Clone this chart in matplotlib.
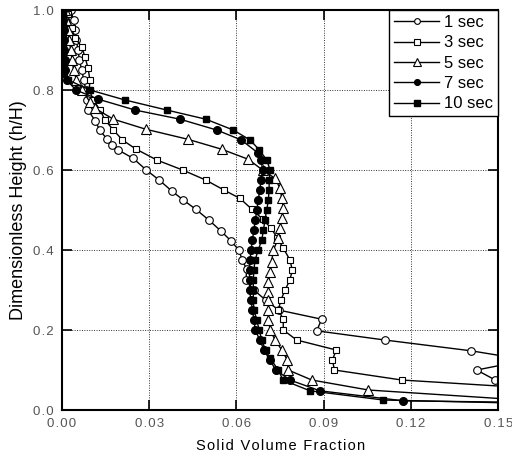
import matplotlib
matplotlib.use("Agg")
import matplotlib.pyplot as plt

plt.rcParams['font.family'] = ['Liberation Sans', 'DejaVu Sans']

# 1 sec
x1 = [0.003, 0.004, 0.0045, 0.005, 0.0055, 0.006, 0.0068, 0.0075, 0.0082, 0.0086, 0.009,
      0.0114, 0.013, 0.0154, 0.0173, 0.0194, 0.0245, 0.029, 0.0334, 0.0377, 0.0417,
      0.046, 0.0505, 0.0546, 0.0581, 0.0608, 0.062, 0.0635, 0.0633, 0.066, 0.070, 0.0745,
      0.0893, 0.0876, 0.111, 0.1407, 0.16, 0.1426, 0.149, 0.17]
y1 = [1.0, 0.975, 0.95, 0.925, 0.9, 0.875, 0.85, 0.825, 0.8, 0.775, 0.75,
      0.723, 0.70, 0.678, 0.663, 0.65, 0.629, 0.60, 0.575, 0.548, 0.525,
      0.502, 0.475, 0.448, 0.423, 0.40, 0.375, 0.352, 0.325, 0.30, 0.275, 0.25,
      0.227, 0.198, 0.175, 0.148, 0.125, 0.10, 0.075, 0.04]

# 3 sec
x3 = [0.002, 0.0033, 0.0045, 0.0068, 0.0079, 0.009, 0.0096, 0.0094, 0.0108, 0.0131, 0.0148,
      0.0177, 0.0208, 0.0253, 0.0326, 0.0415, 0.0494, 0.0557, 0.0612, 0.0653, 0.069, 0.072,
      0.074, 0.0761, 0.0784, 0.0792, 0.0784, 0.0767, 0.0753, 0.0744, 0.0761, 0.0761, 0.0807,
      0.0943, 0.093, 0.0937, 0.1168, 0.17]
y3 = [0.99, 0.954, 0.93, 0.908, 0.883, 0.854, 0.825, 0.80, 0.775, 0.75, 0.725,
      0.70, 0.675, 0.653, 0.625, 0.60, 0.575, 0.55, 0.529, 0.502, 0.477, 0.454,
      0.43, 0.405, 0.375, 0.35, 0.325, 0.30, 0.275, 0.25, 0.227, 0.20, 0.175,
      0.15, 0.125, 0.10, 0.075, 0.051]

# 5 sec
x5 = [0.001, 0.0015, 0.002, 0.0025, 0.003, 0.0035, 0.004, 0.005, 0.007, 0.0096, 0.0114,
      0.0177, 0.0288, 0.0432, 0.0549, 0.064, 0.069, 0.0733, 0.075, 0.0756, 0.0761, 0.0756,
      0.075, 0.0744, 0.0727, 0.0721, 0.0716, 0.071, 0.071, 0.071, 0.071, 0.071, 0.0716,
      0.0733, 0.0756, 0.0775, 0.0778, 0.0859, 0.1054, 0.17]
y5 = [1.0, 0.975, 0.95, 0.925, 0.9, 0.875, 0.85, 0.825, 0.8, 0.77, 0.754,
      0.727, 0.702, 0.677, 0.652, 0.627, 0.60, 0.579, 0.554, 0.529, 0.504, 0.479,
      0.454, 0.429, 0.40, 0.371, 0.346, 0.321, 0.296, 0.275, 0.25, 0.225, 0.20,
      0.175, 0.15, 0.125, 0.10, 0.075, 0.05, 0.0195]

# 7 sec
x7 = [0.0005, 0.0005, 0.0006, 0.0007, 0.0008, 0.0009, 0.001, 0.0016, 0.0048, 0.0125, 0.0251,
      0.0406, 0.0532, 0.0617, 0.0675, 0.0685, 0.069, 0.0685, 0.068, 0.0675, 0.067, 0.0665,
      0.066, 0.0655, 0.065, 0.0647, 0.0645, 0.0645, 0.0645, 0.065, 0.0655, 0.066, 0.0665,
      0.068, 0.0695, 0.0715, 0.0735, 0.0784, 0.0887, 0.1174, 0.17]
y7 = [1.0, 0.975, 0.95, 0.925, 0.9, 0.875, 0.85, 0.825, 0.80, 0.777, 0.75,
      0.727, 0.70, 0.675, 0.642, 0.625, 0.60, 0.575, 0.55, 0.525, 0.50, 0.475,
      0.45, 0.425, 0.40, 0.375, 0.35, 0.325, 0.30, 0.275, 0.25, 0.225, 0.20,
      0.175, 0.15, 0.125, 0.10, 0.075, 0.048, 0.023, 0.018]

# 10 sec
x10 = [0.0003, 0.0003, 0.0004, 0.0004, 0.0005, 0.0006, 0.0008, 0.0022, 0.0096, 0.0217, 0.036,
       0.0495, 0.0589, 0.0647, 0.0679, 0.0704, 0.0716, 0.0713, 0.0712, 0.071, 0.0704, 0.0698,
       0.0693, 0.0687, 0.0675, 0.0664, 0.066, 0.0658, 0.0658, 0.0658, 0.066, 0.067, 0.0678,
       0.0687, 0.070, 0.0716, 0.0744, 0.076, 0.0853, 0.1105, 0.17]
y10 = [0.99, 0.965, 0.94, 0.915, 0.89, 0.865, 0.84, 0.825, 0.80, 0.775, 0.75,
       0.727, 0.70, 0.675, 0.65, 0.625, 0.60, 0.575, 0.55, 0.525, 0.50, 0.475,
       0.45, 0.425, 0.40, 0.375, 0.35, 0.325, 0.30, 0.275, 0.25, 0.225, 0.20,
       0.175, 0.15, 0.129, 0.10, 0.075, 0.048, 0.025, 0.015]

labels = ["1 sec", "3 sec", "5 sec", "7 sec", "10 sec"]
xticks = [0.00, 0.03, 0.06, 0.09, 0.12, 0.15]
yticks = [0.0, 0.2, 0.4, 0.6, 0.8, 1.0]


def spaced(s):
    # loose letter spacing like the original rendering
    return "\u200a".join(s)


fig = plt.figure(figsize=(5.12, 4.61), dpi=100)
ax = fig.add_axes([0.121, 0.1106, 0.852, 0.8677])

ax.plot(x1, y1, color="black", lw=1, marker="o", ms=5.5, mfc="white", mec="black", mew=0.8, label=labels[0])
ax.plot(x3, y3, color="black", lw=1, marker="s", ms=5, mfc="white", mec="black", mew=0.8, label=labels[1])
ax.plot(x5, y5, color="black", lw=1, marker="^", ms=7, mfc="white", mec="black", mew=0.8, label=labels[2])
ax.plot(x7, y7, color="black", lw=1, marker="o", ms=5.5, mfc="black", mec="black", label=labels[3])
ax.plot(x10, y10, color="black", lw=1, marker="s", ms=5, mfc="black", mec="black", label=labels[4])

ax.set_xlim(0, 0.15)
ax.set_ylim(0, 1.0)
ax.set_xticks(xticks)
ax.set_yticks(yticks)
ax.set_xticklabels([spaced(f"{v:.2f}") for v in xticks])
ax.set_yticklabels([spaced(f"{v:.1f}") for v in yticks])
ax.tick_params(direction="in", length=7, width=1.2, top=True, right=True,
               labelsize=9.5, labelcolor="#555555", pad=6)
ax.grid(True, linestyle=(0, (1, 1.5)), color="#333333", lw=0.7)
for s in ax.spines.values():
    s.set_linewidth(1.5)

ax.set_xlabel(spaced("Solid Volume Fraction"), fontsize=10.5, labelpad=6)
ax.set_ylabel("Dimensionless Height (h/H)", fontsize=13, labelpad=4)

leg = ax.legend(loc="upper right", borderaxespad=0, fancybox=False, edgecolor="black",
                fontsize=12, handlelength=2.7, markerscale=0.75, labelspacing=0.32,
                borderpad=0.3, handletextpad=0.3, framealpha=1)
leg.get_frame().set_linewidth(1.0)

fig.savefig("out.png", dpi=100)
